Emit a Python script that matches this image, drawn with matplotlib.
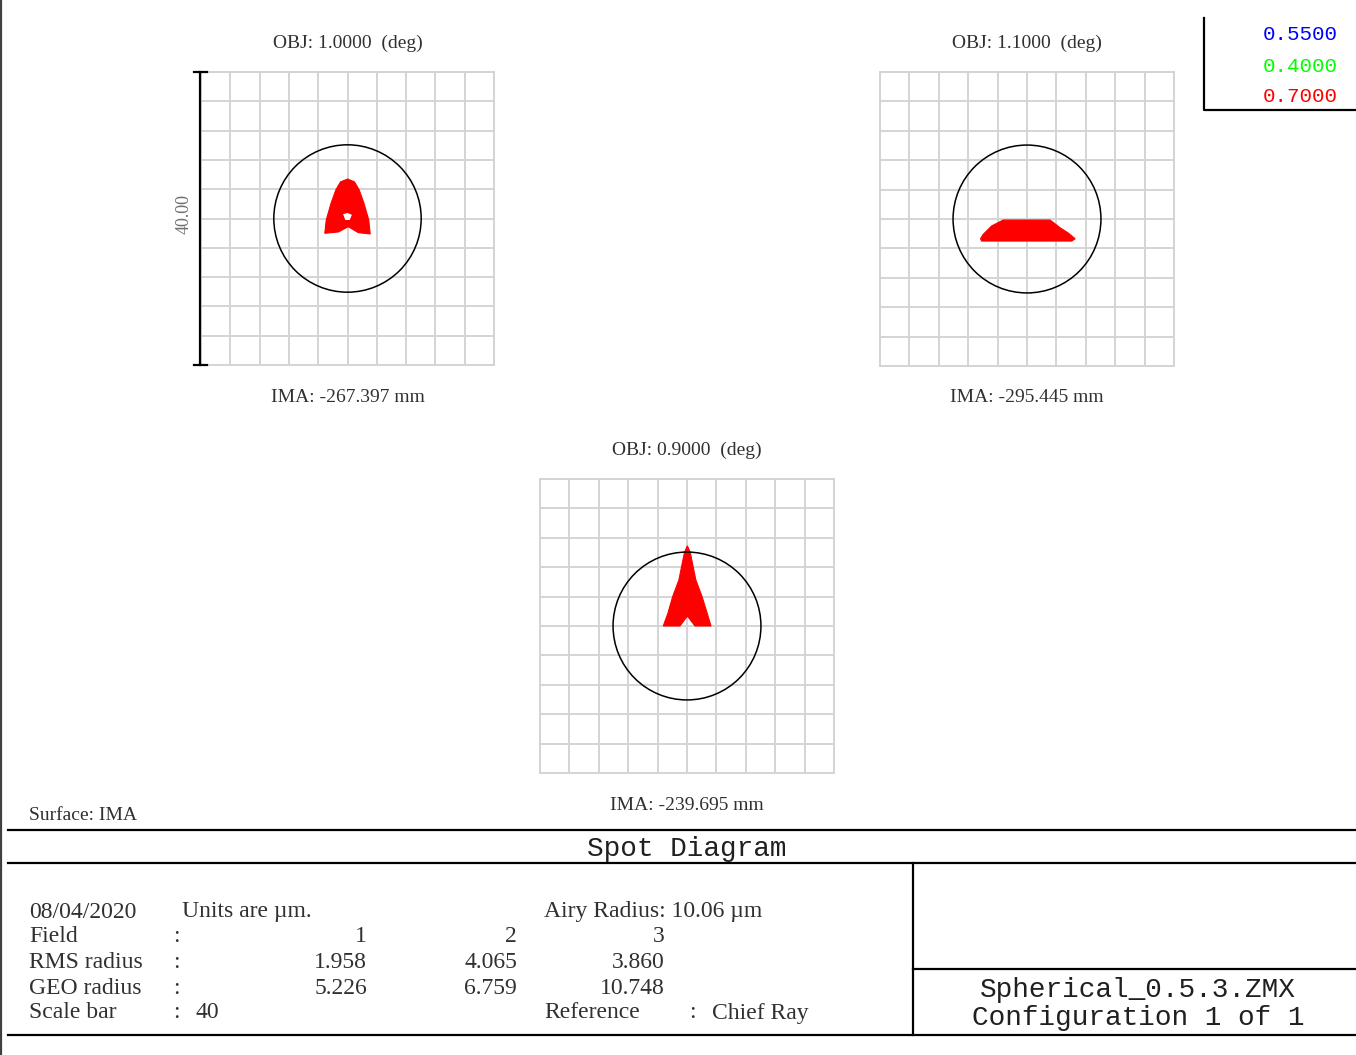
import numpy as np
import matplotlib
matplotlib.use("Agg")
import matplotlib.pyplot as plt
from matplotlib.patches import Circle, Polygon

plt.rcParams['font.family'] = ['Liberation Serif', 'DejaVu Serif']

#data
wavelengths = ['0.5500', '0.4000', '0.7000']
wave_colors = ['#0000ff', '#00ff00', '#ff0000']

field_ids  = [1, 2, 3]
field_obj  = [1.0, 1.1, 0.9]                  # deg
field_ima  = [-267.397, -295.445, -239.695]   # mm
rms_radius = [1.958, 4.065, 3.860]            # um
geo_radius = [5.226, 6.759, 10.748]           # um
airy_radius = 10.06                           # um
scale_bar = 40                                # um
grid_step = 4                                 # um

#spot outlines in um around the chief ray
spot1_x = [0.02, 0.95, 1.60, 2.25, 2.90, 3.10, 1.48, 0.11, -1.25, -3.10, -2.90, -2.25, -1.60, -0.95]
spot1_y = [5.39, 5.00, 3.89, 2.07, -0.20, -2.11, -1.93, -1.12, -1.84, -2.02, -0.20, 2.07, 3.89, 5.00]
hole1_x = [-0.6, 0.0, 0.6, 0.3, -0.3]
hole1_y = [0.6, 0.75, 0.5, -0.2, -0.2]

spot2_x = [-6.32, -6.18, 6.10, 6.55, 5.60, 4.50, 3.14, -3.23, -4.82, -5.96]
spot2_y = [-2.69, -3.00, -3.00, -2.69, -1.90, -1.19, -0.14, -0.14, -0.95, -2.09]

spot3_x = [0.05, 0.45, 1.20, 2.05, 2.75, 3.27, 1.09, 0.05, -0.95, -3.23, -2.60, -1.95, -1.10, -0.35]
spot3_y = [10.91, 10.00, 6.28, 4.00, 1.73, 0.00, 0.00, 1.36, 0.00, 0.00, 1.73, 4.00, 6.28, 10.00]

spots_x = [spot1_x, spot2_x, spot3_x]
spots_y = [spot1_y, spot2_y, spot3_y]

#layout in pixels
W, H = 1356, 1055
panels = [(201, 72, 293), (880, 72, 294), (540, 479, 294)]   # left, top, size
grey = '#d4d4d4'
txt = '#303030'

fig = plt.figure(figsize=(W/100., H/100.), dpi=100)

#overlay axes in pixel units for frame lines and text
ov = fig.add_axes([0, 0, 1, 1])
ov.set_xlim(0, W)
ov.set_ylim(H, 0)
ov.axis('off')

half = scale_bar/2.
for i, (left, top, size) in enumerate(panels):
    ax = fig.add_axes([left/W, 1 - (top+size)/H, size/W, size/H])
    ax.set_xlim(-half, half)
    ax.set_ylim(-half, half)
    ax.set_aspect('equal')
    ticks = np.arange(-half, half + 0.1, grid_step)
    ax.set_xticks(ticks)
    ax.set_yticks(ticks)
    ax.tick_params(length=0, labelbottom=False, labelleft=False)
    ax.grid(True, color=grey, linewidth=1.4)
    for s in ax.spines.values():
        s.set_color(grey)
        s.set_linewidth(1.4)
    ax.add_patch(Polygon(np.column_stack([spots_x[i], spots_y[i]]),
                         closed=True, facecolor=wave_colors[2],
                         edgecolor=wave_colors[2], linewidth=0.8, zorder=3))
    if i == 0:
        ax.add_patch(Polygon(np.column_stack([hole1_x, hole1_y]), closed=True,
                             facecolor='white', edgecolor='none', zorder=4))
    ax.add_patch(Circle((0, 0), airy_radius, fill=False, edgecolor='black',
                        linewidth=1.1, zorder=5))

    cx = left + size/2.
    ov.text(cx, top - 29, 'OBJ: %.4f  (deg)' % field_obj[i], ha='center',
            va='center', fontsize=14, color=txt)
    ov.text(cx, top + size + 32, 'IMA: %.3f mm' % field_ima[i], ha='center',
            va='center', fontsize=14, color=txt)

    if i == 0:
        #scale bar
        ax.plot([-half - 0.15, -half - 0.15], [-half, half], color='black',
                linewidth=1.6, clip_on=False, zorder=6)
        for yy in (-half, half):
            ax.plot([-half - 0.95, -half + 0.8], [yy, yy], color='black',
                    linewidth=1.6, clip_on=False, zorder=6)
        ax.text(-half - 2.3, 0.6, '%.2f' % scale_bar, rotation=90,
                ha='center', va='center', fontsize=13, color='#707070')

#wavelength legend
ov.plot([1204, 1204, W], [18, 110, 110], color='black', linewidth=1.6)
for j, (wl, c) in enumerate(zip(wavelengths, wave_colors)):
    ov.text(1338, 35 + 31*j, wl, ha='right', va='center', color=c,
            fontsize=15, family='Liberation Mono')

#left border
ov.plot([1, 1], [0, H], color='#404040', linewidth=1.6)

ov.text(29, 816, 'Surface: IMA', ha='left', va='center', fontsize=14, color=txt)

#bottom title block
lw = 1.6
ov.plot([8, W], [830, 830], color='black', linewidth=lw)
ov.plot([8, W], [863, 863], color='black', linewidth=lw)
ov.plot([8, W], [1035, 1035], color='black', linewidth=lw)
ov.plot([913, 913], [863, 1035], color='black', linewidth=lw)
ov.plot([913, W], [969, 969], color='black', linewidth=lw)

ov.text(687, 849, 'Spot Diagram', ha='center', va='center', fontsize=20,
        family='Liberation Mono', color='#202020')
ov.text(1138, 990, 'Spherical_0.5.3.ZMX', ha='center', va='center', fontsize=20,
        family='Liberation Mono', color='#202020')
ov.text(1138, 1018, 'Configuration 1 of 1', ha='center', va='center', fontsize=20,
        family='Liberation Mono', color='#202020')

rows_y = [912, 937, 962, 988, 1013]
fs = 17
ov.text(29, rows_y[0], '08/04/2020', ha='left', va='center', fontsize=fs, color=txt)
ov.text(182, rows_y[0], 'Units are \u00b5m.', ha='left', va='center', fontsize=fs, color=txt)
ov.text(544, rows_y[0], 'Airy Radius: %.2f \u00b5m' % airy_radius, ha='left',
        va='center', fontsize=fs, color=txt)

row_labels = ['Field', 'RMS radius', 'GEO radius', 'Scale bar']
for k, lab in enumerate(row_labels):
    ov.text(29, rows_y[k+1], lab, ha='left', va='center', fontsize=fs, color=txt)
    ov.text(176, rows_y[k+1], ':', ha='center', va='center', fontsize=fs, color=txt)

col_x = [367, 517, 665]
for k in range(3):
    ov.text(col_x[k], rows_y[1], '%d' % field_ids[k], ha='right', va='center', fontsize=fs, color=txt)
    ov.text(col_x[k], rows_y[2], '%.3f' % rms_radius[k], ha='right', va='center', fontsize=fs, color=txt)
    ov.text(col_x[k], rows_y[3], '%.3f' % geo_radius[k], ha='right', va='center', fontsize=fs, color=txt)
ov.text(196, rows_y[4], '%d' % scale_bar, ha='left', va='center', fontsize=fs, color=txt)
ov.text(544, rows_y[4], 'Reference', ha='left', va='center', fontsize=fs, color=txt)
ov.text(692, rows_y[4], ':', ha='center', va='center', fontsize=fs, color=txt)
ov.text(712, rows_y[4], 'Chief Ray', ha='left', va='center', fontsize=fs, color=txt)

fig.savefig('out.png', dpi=100)
